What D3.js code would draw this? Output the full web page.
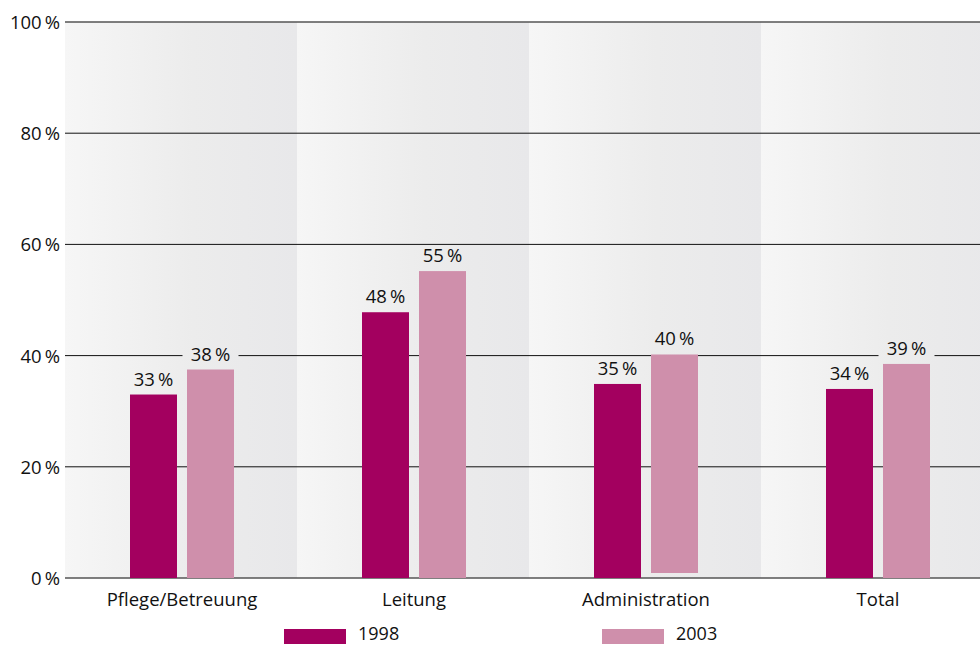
<!DOCTYPE html>
<html><head><meta charset="utf-8">
<script src="https://cdn.jsdelivr.net/npm/d3@7"></script>
<style>
html,body{margin:0;padding:0;background:#fff;}
svg{display:block;font-family:"Open Sans","DejaVu Sans",sans-serif;}
</style></head>
<body><svg id="c" width="980" height="645"></svg>
<script>
const categories = ["Pflege/Betreuung", "Leitung", "Administration", "Total"];
const series = ["1998", "2003"];
const values1998 = [33, 47.8, 34.9, 34.0];
const values2003 = [37.5, 55.2, 40.2, 38.5];
const base2003 = [0, 0, 0.9, 0];
const labels1998 = ["33 %", "48 %", "35 %", "34 %"];
const labels2003 = ["38 %", "55 %", "40 %", "39 %"];
const yTicks = [0, 20, 40, 60, 80, 100];
const colors = ["#a3005f", "#cf8fab"];

const FS = 18.5;
const svg = d3.select("#c");
const x = d3.scaleBand().domain(categories).range([65, 993]).padding(0);
const y = d3.scaleLinear().domain([0, 100]).range([578, 22]);
const barW = 47, gap = 10;

const defs = svg.append("defs");
categories.forEach((c, i) => {
  const g = defs.append("linearGradient").attr("id", "bg" + i)
    .attr("gradientUnits", "userSpaceOnUse")
    .attr("x1", x(c)).attr("x2", x(c) + x.bandwidth()).attr("y1", 0).attr("y2", 0);
  g.append("stop").attr("offset", "0").attr("stop-color", "#f6f6f6");
  g.append("stop").attr("offset", "0.55").attr("stop-color", "#ececec");
  g.append("stop").attr("offset", "1").attr("stop-color", "#e8e8ea");
});

// backgrounds
svg.append("g").selectAll("rect").data(categories).join("rect")
  .attr("x", d => x(d)).attr("y", y(100)).attr("width", x.bandwidth())
  .attr("height", y(0) - y(100)).attr("fill", (d, i) => `url(#bg${i})`);

// gridlines
svg.append("g").selectAll("line").data(yTicks).join("line")
  .attr("x1", 65).attr("x2", 980)
  .attr("y1", d => y(d)).attr("y2", d => y(d))
  .attr("stroke", d => (d === 100 || d === 0) ? "#555" : "#111")
  .attr("stroke-width", d => (d === 100 || d === 0) ? 1.6 : 1);

// y tick labels
svg.append("g").selectAll("text").data(yTicks).join("text")
  .attr("x", 60).attr("y", d => y(d) + 7)
  .attr("text-anchor", "end").attr("font-size", FS).attr("fill", "#111")
  .text(d => d + "\u2009%");

const data = categories.map((c, i) => ({c, i, v1: values1998[i], v2: values2003[i], b2: base2003[i]}));
const cx = c => x(c) + x.bandwidth() / 2 + 1;

// bars
const bars = svg.append("g");
bars.selectAll(".b1").data(data).join("rect").attr("class", "b1")
  .attr("x", d => cx(d.c) - gap / 2 - barW).attr("width", barW)
  .attr("y", d => y(d.v1)).attr("height", d => y(0) - y(d.v1)).attr("fill", colors[0]);
bars.selectAll(".b2").data(data).join("rect").attr("class", "b2")
  .attr("x", d => cx(d.c) + gap / 2).attr("width", barW)
  .attr("y", d => y(d.v2)).attr("height", d => y(d.b2) - y(d.v2)).attr("fill", colors[1]);

// value labels
function addLabels(vals, labs, off) {
  const g = svg.append("g");
  data.forEach(d => {
    const lx = cx(d.c) + off;
    const ly = y(vals[d.i]) - 9;
    g.append("rect").attr("x", lx - 28).attr("y", ly - 16).attr("width", 56).attr("height", 20)
      .attr("fill", `url(#bg${d.i})`);
    g.append("text").attr("x", lx).attr("y", ly).attr("text-anchor", "middle")
      .attr("font-size", FS).attr("fill", "#111").text(labs[d.i].replace(" ", "\u2009"));
  });
}
addLabels(values1998, labels1998, -gap / 2 - barW / 2);
addLabels(values2003, labels2003, gap / 2 + barW / 2);

// category labels
svg.append("g").selectAll("text").data(categories).join("text")
  .attr("x", d => cx(d)).attr("y", 606).attr("text-anchor", "middle")
  .attr("font-size", FS).attr("fill", "#111").text(d => d);

// legend
const legX = [284, 602];
const lg = svg.append("g");
series.forEach((s, i) => {
  lg.append("rect").attr("x", legX[i]).attr("y", 629).attr("width", 62).attr("height", 15).attr("fill", colors[i]);
  lg.append("text").attr("x", legX[i] + 74).attr("y", 640).attr("font-size", 18).attr("fill", "#111").text(s);
});
</script></body></html>
